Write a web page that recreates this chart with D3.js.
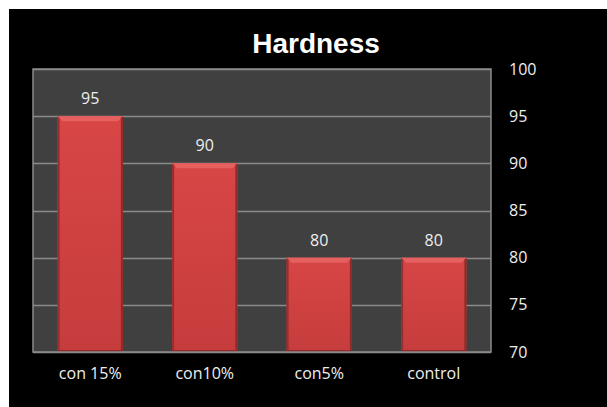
<!DOCTYPE html>
<html><head><meta charset="utf-8">
<script src="https://cdn.jsdelivr.net/npm/d3@7"></script>
<style>html,body{margin:0;padding:0;background:#fff;}svg{display:block;}</style>
</head><body>
<svg id="c" width="607" height="407"></svg>
<script>
const categories = ["con 15%", "con10%", "con5%", "control"];
const values = [95, 90, 80, 80];
const yTicks = [70, 75, 80, 85, 90, 95, 100];
const title = "Hardness";

const svg = d3.select("#c");
const W = 607, H = 407;
const m = {left: 33, right: 116, top: 69, bottom: 55};
const x = d3.scaleBand().domain(categories).range([m.left, W - m.right]).paddingInner(0.43).paddingOuter(0.215);
const y = d3.scaleLinear().domain([70, 100]).range([H - m.bottom, m.top]);

svg.append("rect").attr("x", 9).attr("y", 9).attr("width", W - 9).attr("height", H - 9).attr("fill", "#000");

const defs = svg.append("defs");
const g1 = defs.append("linearGradient").attr("id", "barg").attr("x1", 0).attr("y1", 0).attr("x2", 0).attr("y2", 1);
g1.append("stop").attr("offset", "0%").attr("stop-color", "#d84646");
g1.append("stop").attr("offset", "100%").attr("stop-color", "#c63c3c");

// plot area
svg.append("rect").attr("x", m.left).attr("y", m.top).attr("width", W - m.right - m.left).attr("height", H - m.bottom - m.top)
  .attr("fill", "#404040");

// grid
svg.append("g").selectAll("line").data(yTicks).join("line")
  .attr("x1", m.left).attr("x2", W - m.right)
  .attr("y1", d => Math.round(y(d)) + 0.5).attr("y2", d => Math.round(y(d)) + 0.5)
  .attr("stroke", "#8a8a8a").attr("stroke-width", 1.5);

// bars
const bars = svg.append("g").selectAll("g").data(values).join("g");
const b = 5;
bars.append("rect")
  .attr("x", (d, i) => x(categories[i])).attr("y", d => y(d))
  .attr("width", x.bandwidth()).attr("height", d => y(70) - y(d))
  .attr("fill", "url(#barg)");
// top bevel
bars.append("path").attr("d", (d, i) => {
  const x0 = x(categories[i]), x1 = x0 + x.bandwidth(), y0 = y(d);
  return `M${x0},${y0}L${x1},${y0}L${x1 - b},${y0 + b}L${x0 + b},${y0 + b}Z`;
}).attr("fill", "#e66060");
// side edges
bars.append("path").attr("d", (d, i) => {
  const x0 = x(categories[i]), y0 = y(d), y1 = y(70);
  return `M${x0},${y0}L${x0 + 2},${y0 + 2}L${x0 + 2},${y1}L${x0},${y1}Z`;
}).attr("fill", "#9a2e2e");
bars.append("path").attr("d", (d, i) => {
  const x1 = x(categories[i]) + x.bandwidth(), y0 = y(d), y1 = y(70);
  return `M${x1},${y0}L${x1 - 2},${y0 + 2}L${x1 - 2},${y1}L${x1},${y1}Z`;
}).attr("fill", "#8e2a2a");
bars.append("rect")
  .attr("x", (d, i) => x(categories[i])).attr("y", y(70) - 2)
  .attr("width", x.bandwidth()).attr("height", 2).attr("fill", "#8e2a2a");

// plot border
svg.append("rect").attr("x", m.left).attr("y", m.top).attr("width", W - m.right - m.left).attr("height", H - m.bottom - m.top)
  .attr("fill", "none").attr("stroke", "#8a8a8a").attr("stroke-width", 1.5);

const font = "'Open Sans', 'Liberation Sans', sans-serif";
// value labels
svg.append("g").selectAll("text").data(values).join("text")
  .attr("x", (d, i) => x(categories[i]) + x.bandwidth() / 2)
  .attr("y", d => y(d) - 12)
  .attr("text-anchor", "middle").attr("fill", "#eeeeee")
  .style("font-family", font).style("font-size", "16px")
  .text(d => d);

// right axis
const yAxis = d3.axisRight(y).tickValues(yTicks).tickSize(0).tickPadding(18);
const ya = svg.append("g").attr("transform", `translate(${W - m.right},0)`).call(yAxis);
ya.select(".domain").remove();
ya.selectAll("text").attr("fill", "#eeeeee").style("font-family", font).style("font-size", "16px");

// bottom axis
const xAxis = d3.axisBottom(x).tickSize(0).tickPadding(16);
const xa = svg.append("g").attr("transform", `translate(0,${H - m.bottom})`).call(xAxis);
xa.select(".domain").remove();
xa.selectAll("text").attr("fill", "#eeeeee").style("font-family", font).style("font-size", "16px");

// title
svg.append("text").attr("x", 316).attr("y", 53).attr("text-anchor", "middle")
  .attr("fill", "#ffffff").style("font-family", "'Liberation Sans', Arial, sans-serif")
  .style("font-weight", "bold").style("font-size", "28px").text(title);
</script>
</body></html>
